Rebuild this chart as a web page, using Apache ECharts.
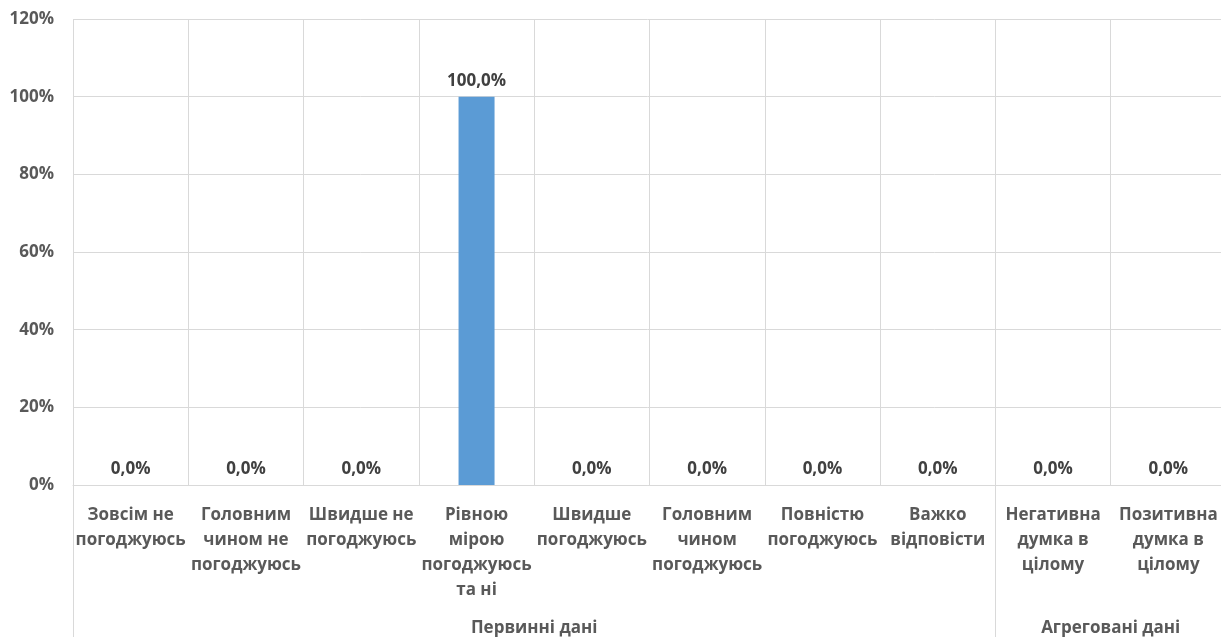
<!DOCTYPE html>
<html>
<head>
<meta charset="utf-8">
<script src="https://cdn.jsdelivr.net/npm/echarts@6/dist/echarts.min.js"></script>
<style>
html,body{margin:0;padding:0;background:#fff;}
#chart{width:1221px;height:637px;}
</style>
</head>
<body>
<div id="chart"></div>
<script>
const categories = [
  "Зовсім не\nпогоджуюсь",
  "Головним\nчином не\nпогоджуюсь",
  "Швидше не\nпогоджуюсь",
  "Рівною\nмірою\nпогоджуюсь\nта ні",
  "Швидше\nпогоджуюсь",
  "Головним\nчином\nпогоджуюсь",
  "Повністю\nпогоджуюсь",
  "Важко\nвідповісти",
  "Негативна\nдумка в\nцілому",
  "Позитивна\nдумка в\nцілому"
];
const values = [0, 0, 0, 100, 0, 0, 0, 0, 0, 0];
const groupNames = ["Первинні дані", "Агреговані дані"];
const groupCenters = [4, 9];      // centre of each group on a 0..10 category scale
const groupBoundaries = [0, 8, 10];
const yTicks = [0, 20, 40, 60, 80, 100, 120];

const FONT = "Open Sans";
const FS = 17;
const chart = echarts.init(document.getElementById('chart'), null, {renderer: 'canvas'});
chart.setOption({
  animation: false,
  backgroundColor: '#ffffff',
  textStyle: {fontFamily: FONT},
  grid: {left: 73, width: 1153, top: 19, bottom: 152, containLabel: false, outerBoundsMode: 'none'},
  xAxis: [
    {
      type: 'category',
      data: categories,
      position: 'bottom',
      axisLine: {show: true, lineStyle: {color: '#d9d9d9', width: 1}},
      axisTick: {show: false},
      splitLine: {show: true, interval: 0, lineStyle: {color: '#d9d9d9', width: 1}},
      axisLabel: {
        interval: 0, margin: 18, color: '#595959', fontFamily: FONT,
        fontWeight: 'bold', fontSize: FS, lineHeight: 25, align: 'center'
      }
    },
    {
      type: 'value',
      min: 0, max: 10,
      position: 'bottom',
      axisLine: {show: false, onZero: false},
      splitLine: {show: false},
      axisTick: {show: true, customValues: groupBoundaries, length: 152, lineStyle: {color: '#d9d9d9', width: 1}},
      axisLabel: {
        show: true, customValues: groupCenters, margin: 131,
        color: '#595959', fontFamily: FONT, fontWeight: 'bold', fontSize: FS, lineHeight: 25,
        formatter: function (v) { const i = groupCenters.indexOf(v); return i >= 0 ? groupNames[i] : ''; }
      }
    }
  ],
  yAxis: {
    type: 'value',
    min: yTicks[0], max: yTicks[yTicks.length - 1], interval: 20,
    axisLine: {show: false},
    axisTick: {show: false},
    splitLine: {show: true, lineStyle: {color: '#d9d9d9', width: 1}},
    axisLabel: {
      margin: 19, color: '#595959', fontFamily: FONT, fontWeight: 'bold', fontSize: FS,
      formatter: '{value}%'
    }
  },
  series: [{
    type: 'bar',
    xAxisIndex: 0,
    data: values,
    barWidth: 36,
    itemStyle: {color: '#5b9bd5'},
    label: {
      show: true, position: 'top', distance: 7,
      color: '#404040', fontFamily: FONT, fontWeight: 'bold', fontSize: FS,
      formatter: function (p) { return p.value.toFixed(1).replace('.', ',') + '%'; }
    }
  }]
});
</script>
</body>
</html>
